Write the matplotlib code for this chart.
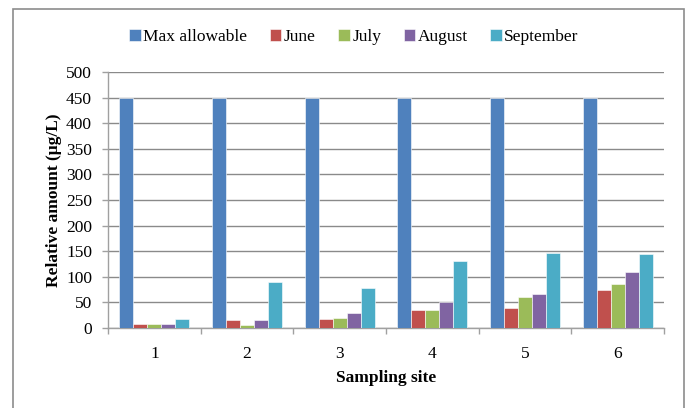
import matplotlib
matplotlib.use("Agg")
import matplotlib.pyplot as plt
from matplotlib.patches import Rectangle
import numpy as np

plt.rcParams['font.family'] = ['Liberation Serif', 'DejaVu Serif']

sites = ["1", "2", "3", "4", "5", "6"]
series_names = ["Max allowable", "June", "July", "August", "September"]
max_allowable = [450, 450, 450, 450, 450, 450]
june = [8, 15, 18, 35, 40, 75]
july = [8, 5, 20, 35, 60, 86]
august = [8, 16, 30, 50, 67, 109]
september = [18, 90, 79, 130, 147, 145]
colors = ["#4F81BD", "#C0504D", "#9BBB59", "#8064A2", "#4BACC6"]
yticks = [0, 50, 100, 150, 200, 250, 300, 350, 400, 450, 500]

fig = plt.figure(figsize=(6.86, 4.08), dpi=100)
# outer chart frame
fig.patches.append(Rectangle((13 / 686, -0.05), (684 - 13) / 686, 1.05 - 9 / 408,
                             transform=fig.transFigure, fill=False,
                             edgecolor="#8c8c8c", linewidth=1.2, zorder=0))

ax = fig.add_axes([108 / 686, 1 - 328 / 408, (664 - 108) / 686, (328 - 72) / 408])

values = [max_allowable, june, july, august, september]
x = np.arange(len(sites))
w = 0.151
offsets = (np.arange(5) - 2) * w
handles = []
for vals, off, c, name in zip(values, offsets, colors, series_names):
    h = ax.bar(x + off, vals, width=w, color=c, edgecolor="white",
               linewidth=0.4, label=name, zorder=3)
    handles.append(h)

ax.set_xlim(-0.5, len(sites) - 0.5)
ax.set_ylim(0, 500)
ax.set_yticks(yticks)
ax.yaxis.grid(True, color="#8a8a8a", linewidth=1.0, zorder=0)
ax.set_axisbelow(True)
ax.set_xticks(x)
ax.set_xticklabels(sites, fontsize=12.5)
ax.set_xticks(np.arange(len(sites) + 1) - 0.5, minor=True)
ax.tick_params(axis="x", which="major", length=0, pad=13)
ax.tick_params(axis="x", which="minor", length=4.5, color="#a0a0a0", width=1)
ax.tick_params(axis="y", length=4.5, color="#a0a0a0", width=1, labelsize=12.5, pad=7)
for side in ["top", "right"]:
    ax.spines[side].set_visible(False)
for side in ["left", "bottom"]:
    ax.spines[side].set_color("#a0a0a0")
    ax.spines[side].set_linewidth(1.0)

ax.set_xlabel("Sampling site", fontsize=12.5, fontweight="bold", labelpad=6)
ax.set_ylabel("Relative amount (μg/L)", fontsize=12.5, fontweight="bold", labelpad=3)

fig.legend(handles=handles, labels=series_names, loc="center",
           bbox_to_anchor=(354 / 686, 1 - 37 / 408), ncol=5, frameon=False,
           fontsize=12.5, handlelength=0.65, handleheight=0.65,
           handletextpad=0.15, columnspacing=1.3)

fig.savefig("out.png", dpi=100)
